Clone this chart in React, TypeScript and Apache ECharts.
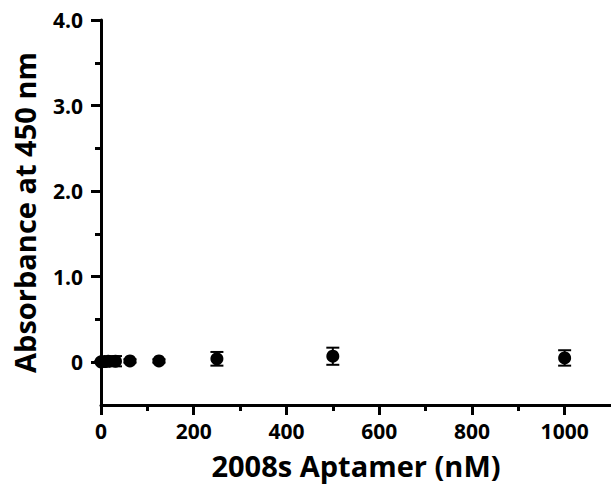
import React, { useEffect, useRef } from "react";
import * as echarts from "echarts";

const concentrations = [0, 7.8, 15.6, 31.25, 62.5, 125, 250, 500, 1000];
const absorbance = [0.005, 0.008, 0.01, 0.012, 0.015, 0.015, 0.04, 0.07, 0.05];
const errors = [0.01, 0.02, 0.03, 0.06, 0.02, 0.02, 0.08, 0.1, 0.09];
const xMajorTicks = [0, 200, 400, 600, 800, 1000];
const xMinorTicks = [100, 300, 500, 700, 900];
const yMajorTicks = [0, 1, 2, 3, 4];
const yMinorTicks = [0.5, 1.5, 2.5, 3.5];

const FONT = "'Open Sans', Lato, sans-serif";

export default function App() {
  const ref = useRef<HTMLDivElement>(null);
  useEffect(() => {
    if (!ref.current) return;
    const chart = echarts.init(ref.current, undefined, { renderer: "svg" });
    const points = concentrations.map((c, i) => [c, absorbance[i]]);
    const errData = concentrations.map((c, i) => [c, absorbance[i] - errors[i], absorbance[i] + errors[i]]);
    const axisLine = { show: true, onZero: false, lineStyle: { color: "#000", width: 3 } };
    chart.setOption({
      animation: false,
      grid: { left: 101, right: 0, top: 20, bottom: 85, containLabel: false },
      xAxis: [
        {
          type: "value",
          min: 0,
          max: 1100,
          name: "2008s Aptamer (nM)",
          nameLocation: "middle",
          nameGap: 46,
          nameTextStyle: { fontFamily: FONT, fontWeight: "bold", fontSize: 29, color: "#000" },
          axisLine,
          axisTick: { show: true, inside: false, customValues: xMajorTicks, length: 10, lineStyle: { color: "#000", width: 3 } },
          axisLabel: {
            customValues: xMajorTicks,
            formatter: (v: number) => String(v),
            fontFamily: FONT,
            fontWeight: "bold",
            fontSize: 21,
            color: "#000",
            margin: 15,
          },
          splitLine: { show: false },
        },
        {
          type: "value",
          min: 0,
          max: 1100,
          position: "bottom",
          axisLine: { show: false, onZero: false },
          axisTick: { show: true, inside: false, customValues: xMinorTicks, length: 6, lineStyle: { color: "#000", width: 3 } },
          axisLabel: { show: false },
          splitLine: { show: false },
        },
      ],
      yAxis: [
        {
          type: "value",
          min: -0.5,
          max: 4,
          name: "Absorbance at 450 nm",
          nameLocation: "middle",
          nameRotate: 90,
          nameGap: 62,
          nameTextStyle: { fontFamily: FONT, fontWeight: "bold", fontSize: 29, color: "#000" },
          axisLine,
          axisTick: { show: true, inside: false, customValues: yMajorTicks, length: 10, lineStyle: { color: "#000", width: 3 } },
          axisLabel: {
            customValues: yMajorTicks,
            formatter: (v: number) => (v === 0 ? "0" : v.toFixed(1)),
            fontFamily: FONT,
            fontWeight: "bold",
            fontSize: 21,
            color: "#000",
            margin: 18,
          },
          splitLine: { show: false },
        },
        {
          type: "value",
          min: -0.5,
          max: 4,
          position: "left",
          axisLine: { show: false, onZero: false },
          axisTick: { show: true, inside: false, customValues: yMinorTicks, length: 6, lineStyle: { color: "#000", width: 3 } },
          axisLabel: { show: false },
          splitLine: { show: false },
        },
      ],
      series: [
        {
          type: "custom",
          xAxisIndex: 0,
          yAxisIndex: 0,
          data: errData,
          z: 2,
          renderItem: (params: any, api: any) => {
            const x = api.value(0);
            const lo = api.coord([x, api.value(1)]);
            const hi = api.coord([x, api.value(2)]);
            const hw = 6.5;
            const style = { stroke: "#000", lineWidth: 2 };
            return {
              type: "group",
              children: [
                { type: "line", shape: { x1: lo[0], y1: lo[1], x2: hi[0], y2: hi[1] }, style },
                { type: "line", shape: { x1: lo[0] - hw, y1: lo[1], x2: lo[0] + hw, y2: lo[1] }, style },
                { type: "line", shape: { x1: hi[0] - hw, y1: hi[1], x2: hi[0] + hw, y2: hi[1] }, style },
              ],
            };
          },
        },
        {
          type: "scatter",
          xAxisIndex: 0,
          yAxisIndex: 0,
          data: points,
          symbol: "circle",
          symbolSize: 13,
          itemStyle: { color: "#000", opacity: 1 },
          z: 3,
        },
      ],
    });
    return () => chart.dispose();
  }, []);
  return <div ref={ref} style={{ width: 611, height: 490, position: "absolute", left: 0, top: 0, background: "#fff" }} />;
}
